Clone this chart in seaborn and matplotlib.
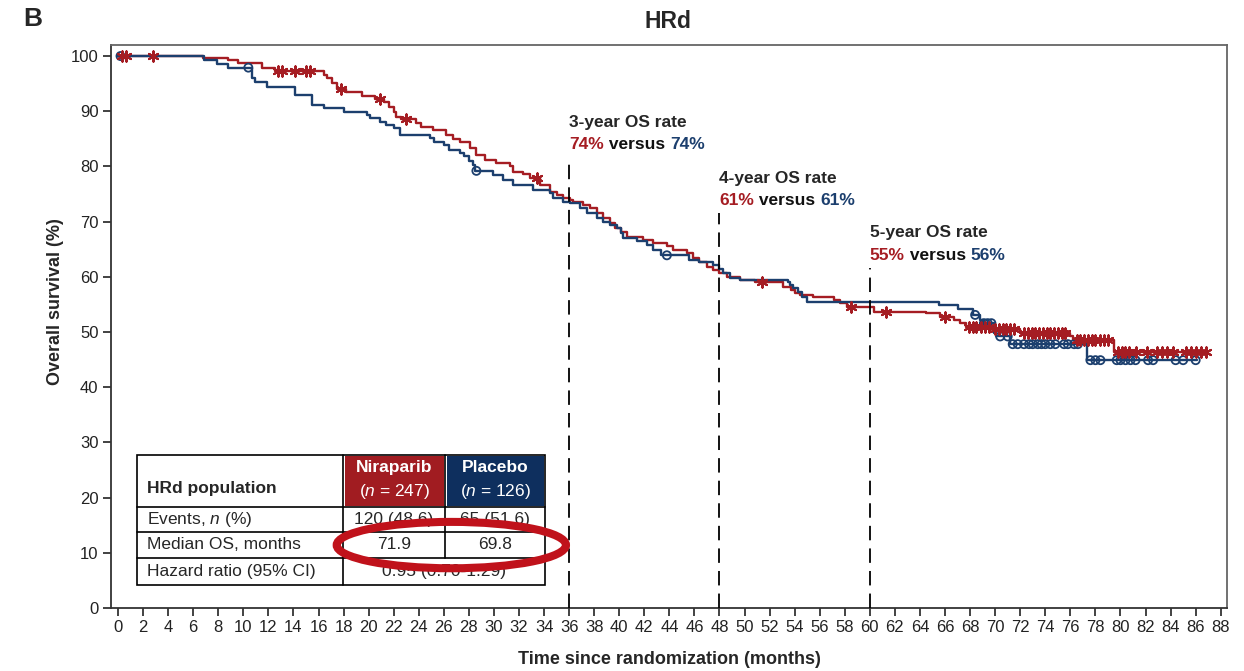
import numpy as np
import pandas as pd
import matplotlib
matplotlib.use("Agg")
import matplotlib.pyplot as plt
import seaborn as sns
from matplotlib.patches import Rectangle, Ellipse

sns.set_theme(style="ticks")
plt.rcParams["font.family"] = ["Liberation Sans", "DejaVu Sans"]
plt.rcParams.update({
    "mathtext.fontset": "custom",
    "mathtext.rm": "Liberation Sans",
    "mathtext.it": "Liberation Sans:italic",
    "mathtext.bf": "Liberation Sans:bold",
})

RED = "#a51d23"
BLUE = "#1c3f6e"
HEAD_RED = "#a11c21"
HEAD_BLUE = "#0e2f5e"
RING = "#c0121b"

# ---- Kaplan-Meier steps: time (months) and survival (%) after each step ----
nira_time = [0, 6.8, 8.8, 9.6, 11.5, 12.5, 16.4, 16.7, 17.1, 17.5, 18.2, 19.5,
             20.5, 21.2, 21.6, 22.0, 22.2, 22.6, 23.8, 24.2, 25.1, 26.2, 26.7,
             27.3, 28.1, 28.6, 29.3, 30.2, 31.3, 31.5, 32.3, 32.9, 33.7, 34.5,
             35.0, 35.5, 36.1, 36.3, 37.1, 37.7, 38.2, 38.7, 39.3, 39.7, 40.1,
             40.6, 41.9, 42.7, 43.8, 44.3, 45.4, 45.9, 46.4, 47.0, 47.5, 48.0,
             48.6, 49.6, 50.8, 53.1, 53.7, 54.0, 54.4, 55.5, 57.1, 57.6, 58.2,
             60.3, 64.5, 65.6, 66.7, 67.2, 67.7, 69.8, 72.0, 76.0, 76.2, 79.5]
nira_surv = [100, 99.6, 99.2, 98.7, 97.9, 97.3, 96.6, 96.0, 95.1, 94.1, 93.4, 92.8,
             92.3, 91.7, 90.8, 89.9, 89.0, 88.6, 87.8, 87.2, 86.6, 85.7, 85.0,
             84.5, 83.3, 82.0, 81.2, 80.6, 80.0, 79.0, 78.6, 77.9, 76.6, 75.4,
             74.8, 74.3, 73.9, 73.6, 73.0, 72.4, 71.5, 70.6, 69.7, 68.8, 68.2,
             67.3, 66.7, 66.1, 65.5, 64.9, 64.3, 63.4, 62.7, 61.8, 61.2, 60.7,
             60.0, 59.4, 59.0, 58.2, 57.6, 57.0, 56.7, 56.3, 55.8, 55.2, 54.6,
             53.7, 53.4, 52.8, 52.2, 51.6, 51.0, 50.6, 49.9, 49.2, 48.6, 46.4]
nira_last = 87.0
nira_censor = [0.3, 0.6, 2.8, 12.8, 13.1, 14.1, 15.0, 15.3, 17.8, 20.9, 23.0, 33.4,
               51.4, 58.5, 61.3, 66.0, 67.9, 68.2, 68.5, 68.9, 69.2, 69.5, 70.0,
               70.3, 70.6, 70.9, 71.2, 71.5, 72.3, 72.6, 72.9, 73.2, 73.5, 73.8,
               74.1, 74.4, 74.7, 75.0, 75.3, 75.6, 76.5, 76.8, 77.1, 77.4, 77.7,
               78.0, 78.4, 78.7, 79.0, 79.8, 80.1, 80.4, 80.7, 81.2, 82.1, 82.9,
               83.3, 83.7, 84.2, 85.2, 85.6, 86.0, 86.4, 86.8]

plac_time = [0, 6.9, 7.9, 8.8, 10.7, 10.9, 11.9, 14.1, 15.5, 16.4, 18.0, 19.9,
             20.1, 20.9, 21.4, 22.0, 22.5, 24.9, 25.2, 26.0, 26.4, 27.3, 27.6,
             28.0, 28.3, 28.5, 29.9, 30.7, 31.5, 33.1, 34.5, 34.7, 35.5, 36.1,
             36.9, 37.4, 38.2, 38.7, 39.3, 39.8, 40.1, 40.3, 41.4, 42.2, 42.7,
             43.3, 45.6, 46.4, 47.5, 48.0, 48.3, 48.8, 49.6, 53.5, 53.6, 53.9,
             54.3, 54.6, 55.0, 65.5, 67.0, 68.2, 68.8, 69.0, 69.9, 70.1, 71.2,
             77.3]
plac_surv = [100, 99.3, 98.5, 97.9, 96.0, 95.3, 94.4, 92.9, 91.1, 90.5, 89.9, 89.3,
             88.7, 88.1, 87.5, 87.0, 85.7, 85.1, 84.5, 83.9, 83.0, 82.4, 81.8,
             80.9, 80.3, 79.2, 78.4, 77.5, 76.6, 75.7, 75.2, 74.3, 73.6, 73.4,
             72.5, 71.5, 70.6, 70.0, 69.4, 68.8, 67.9, 67.0, 66.4, 65.8, 64.9,
             63.9, 63.0, 62.7, 62.1, 61.5, 60.7, 59.8, 59.5, 59.1, 58.5, 58.0,
             57.3, 56.4, 55.5, 54.9, 54.1, 53.1, 52.2, 51.6, 49.8, 49.2, 47.8,
             44.9]
plac_last = 86.1
plac_censor = [0.2, 10.4, 28.6, 43.8, 68.4, 69.1, 69.4, 69.7, 70.4, 71.0, 71.4,
               71.8, 72.3, 72.7, 73.0, 73.4, 73.7, 74.0, 74.4, 74.8, 75.5, 75.8,
               76.3, 76.6, 77.6, 78.0, 78.4, 79.7, 80.0, 80.4, 80.8, 81.2, 82.2,
               82.6, 84.4, 85.0, 86.0]

arm_names = ["Niraparib", "Placebo"]
month_ticks = list(range(0, 89, 2))
surv_ticks = list(range(0, 101, 10))

# Landmark OS rates
landmark_months = [36, 48, 60]
landmark_years = [3, 4, 5]
landmark_nira = [74, 61, 55]
landmark_plac = [74, 61, 56]

# Summary table
table_header = "HRd population"
table_n = [247, 126]
table_rows = ["Events, $n$ (%)", "Median OS, months", "Hazard ratio (95% CI)"]
events = ["120 (48.6)", "65 (51.6)"]
median_os = ["71.9", "69.8"]
hazard_ratio = "0.95 (0.70-1.29)"


def km_value(times, surv, t):
    idx = np.searchsorted(times, t, side="right") - 1
    return np.asarray(surv)[idx]


curves = pd.concat([
    pd.DataFrame({"time": nira_time + [nira_last],
                  "surv": nira_surv + [nira_surv[-1]], "arm": "Niraparib"}),
    pd.DataFrame({"time": plac_time + [plac_last],
                  "surv": plac_surv + [plac_surv[-1]], "arm": "Placebo"}),
], ignore_index=True)

fig = plt.figure(figsize=(12.44, 6.71), dpi=100)
ax = fig.add_axes([111 / 1244, 63 / 671, 1116 / 1244, 563 / 671])

sns.lineplot(data=curves, x="time", y="surv", hue="arm",
             palette={"Niraparib": RED, "Placebo": BLUE},
             drawstyle="steps-post", estimator=None, sort=False,
             legend=False, linewidth=1.7, ax=ax)

# Censoring marks
sns.scatterplot(x=plac_censor, y=km_value(plac_time, plac_surv, plac_censor),
                marker="o", s=34, facecolors="none", edgecolor=BLUE,
                linewidth=1.3, color=BLUE, ax=ax, zorder=4)
sns.scatterplot(x=nira_censor, y=km_value(nira_time, nira_surv, nira_censor),
                marker=(6, 2, 0), s=55, color=RED, linewidth=1.5, ax=ax, zorder=5)

ax.set_xlim(-0.56, 88.5)
ax.set_ylim(0, 102)
ax.set_xticks(month_ticks)
ax.set_yticks(surv_ticks)
ax.tick_params(axis="both", direction="out", length=6, width=1.2,
               labelsize=12, pad=3, colors="#222222", bottom=True, left=True)
for side in ["left", "bottom", "top", "right"]:
    ax.spines[side].set_visible(True)
    ax.spines[side].set_linewidth(1.3)
    ax.spines[side].set_color("#333333")
ax.spines["top"].set_color("#666666")
ax.spines["right"].set_color("#666666")

ax.set_xlabel("Time since randomization (months)", fontsize=13, fontweight="bold")
ax.set_ylabel("Overall survival (%)", fontsize=13, fontweight="bold")
ax.xaxis.set_label_coords(0.5, -0.092)
ax.xaxis.label.set_va("center")
ax.yaxis.set_label_coords(-0.05, 0.5435)
ax.yaxis.label.set_va("center")

fig.text(668 / 1244, 1 - 22 / 671, "HRd", ha="center", va="center",
         fontsize=16.5, fontweight="bold")
fig.text(23 / 1244, 1 - 19 / 671, "B", ha="left", va="center",
         fontsize=19, fontweight="bold")

# Landmark lines and OS-rate labels
line_tops = [81.2, 71.6, 61.6]
label_y1 = [87.9, 77.9, 68.1]
label_y2 = [83.9, 73.9, 63.9]
ax.vlines(landmark_months, 0, line_tops, colors="black", linestyles=(0, (8, 4.5)),
          linewidth=1.3, zorder=3)
for m, yr, n_val, p_val, y1, y2 in zip(landmark_months, landmark_years,
                                       landmark_nira, landmark_plac,
                                       label_y1, label_y2):
    ax.text(m, y1, f"{yr}-year OS rate", fontsize=12.5, fontweight="bold",
            va="center", ha="left")
    t1 = ax.text(m, y2, f"{n_val}%", fontsize=12.5, fontweight="bold",
                 color=RED, va="center", ha="left")
    t2 = ax.annotate(" versus ", xy=(1, 0), xycoords=t1, va="bottom", ha="left",
                     fontsize=12.5, fontweight="bold", color="#111111")
    ax.annotate(f"{p_val}%", xy=(1, 0), xycoords=t2, va="bottom", ha="left",
                fontsize=12.5, fontweight="bold", color=BLUE)

# Summary table drawn in data coordinates
cx = [1.52, 17.96, 26.1, 34.08]
ry = [27.7, 18.3, 13.77, 9.06, 4.17]
lw_t = 1.2
ax.add_patch(Rectangle((cx[0], ry[4]), cx[3] - cx[0], ry[0] - ry[4],
                       facecolor="white", edgecolor="black", lw=lw_t, zorder=6))
ax.add_patch(Rectangle((cx[1] + 0.12, ry[1] + 0.25), cx[2] - cx[1] - 0.24,
                       ry[0] - ry[1] - 0.5, facecolor=HEAD_RED, edgecolor="none",
                       zorder=6.5))
ax.add_patch(Rectangle((cx[2] + 0.12, ry[1] + 0.25), cx[3] - cx[2] - 0.24,
                       ry[0] - ry[1] - 0.5, facecolor=HEAD_BLUE, edgecolor="none",
                       zorder=6.5))
for y in ry[1:4]:
    ax.plot([cx[0], cx[3]], [y, y], color="black", lw=lw_t, zorder=7)
ax.plot([cx[1], cx[1]], [ry[4], ry[0]], color="black", lw=lw_t, zorder=7)
ax.plot([cx[2], cx[2]], [ry[3], ry[0]], color="black", lw=lw_t, zorder=7)

tx = cx[0] + 0.8
col_mid = [(cx[1] + cx[2]) / 2, (cx[2] + cx[3]) / 2]
ax.text(tx, 21.6, table_header, fontsize=12.5, fontweight="bold",
        va="center", ha="left", zorder=8)
for name, n_val, xm in zip(arm_names, table_n, col_mid):
    ax.text(xm, 25.4, name, fontsize=12.5, fontweight="bold", color="white",
            ha="center", va="center", zorder=8)
    ax.text(xm, 21.1, f"($n$ = {n_val})", fontsize=12.5, color="white",
            ha="center", va="center", zorder=8)
row_mid = [(ry[1] + ry[2]) / 2, (ry[2] + ry[3]) / 2, (ry[3] + ry[4]) / 2]
for label, ym in zip(table_rows, row_mid):
    ax.text(tx, ym, label, fontsize=12.5, ha="left", va="center", zorder=8)
for val, xm in zip(events, col_mid):
    ax.text(xm, row_mid[0], val, fontsize=12.5, ha="center", va="center", zorder=8)
for val, xm in zip(median_os, col_mid):
    ax.text(xm, row_mid[1], val, fontsize=12.5, ha="center", va="center", zorder=8)
ax.text((cx[1] + cx[3]) / 2, row_mid[2], hazard_ratio, fontsize=12.5,
        ha="center", va="center", zorder=8)

# Highlight ring around the median OS row
ax.add_patch(Ellipse((26.6, 11.4), 18.3, 8.4, facecolor="none",
                     edgecolor=RING, lw=5.8, zorder=9, clip_on=False))

fig.savefig("out.png", dpi=100)
